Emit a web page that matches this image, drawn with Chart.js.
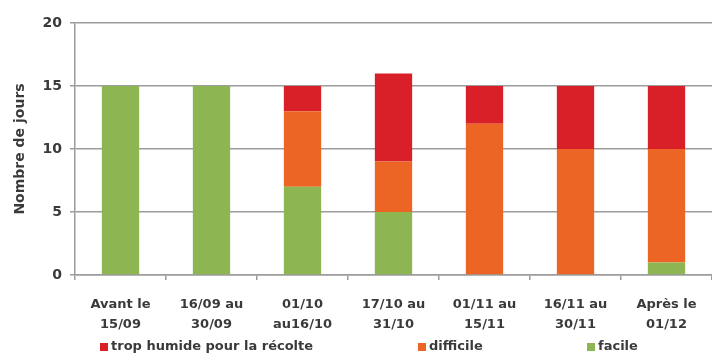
<!DOCTYPE html>
<html>
<head>
<meta charset="utf-8">
<script src="https://cdn.jsdelivr.net/npm/chart.js@4/dist/chart.umd.min.js"></script>
<style>
  html, body { margin: 0; padding: 0; background: #fff; }
  #wrap { width: 712px; height: 356px; }
</style>
</head>
<body>
<div id="wrap"><canvas id="chart" width="712" height="356"></canvas></div>
<script>
const periodLabels = [
    ['Avant le', '15/09'],
    ['16/09 au', '30/09'],
    ['01/10', 'au16/10'],
    ['17/10 au', '31/10'],
    ['01/11 au', '15/11'],
    ['16/11 au', '30/11'],
    ['Après le', '01/12']
];
const facile = [15, 15, 7, 5, 0, 0, 1];
const difficile = [0, 0, 6, 4, 12, 10, 9];
const tropHumide = [0, 0, 2, 7, 3, 5, 5];
const yTicks = [0, 5, 10, 15, 20];

const textColor = '#3a3a3a';
const gridColor = '#9c9c9c';
const fontFamily = '"DejaVu Sans", sans-serif';

// legend drawn by hand so the three entries sit where the original puts them
const legendSlots = [100, 418, 587];
const bottomLegend = {
    id: 'bottomLegend',
    afterDraw(chart) {
        const ctx = chart.ctx;
        const order = chart.data.datasets.slice().reverse();
        ctx.save();
        ctx.font = 'bold 13px ' + fontFamily;
        ctx.textBaseline = 'middle';
        ctx.textAlign = 'left';
        order.forEach((ds, i) => {
            const x = legendSlots[i];
            const y = 347;
            ctx.fillStyle = ds.backgroundColor;
            ctx.fillRect(x, y - 4, 8, 8);
            ctx.fillStyle = textColor;
            ctx.fillText(ds.label, x + 11, y);
        });
        ctx.restore();
    }
};

new Chart(document.getElementById('chart'), {
    type: 'bar',
    data: {
        labels: periodLabels,
        datasets: [
            { label: 'facile', data: facile, backgroundColor: '#8db551' },
            { label: 'difficile', data: difficile, backgroundColor: '#ec6524' },
            { label: 'trop humide pour la récolte', data: tropHumide, backgroundColor: '#d92028' }
        ]
    },
    options: {
        responsive: false,
        animation: false,
        layout: { padding: { top: 23, right: 0, bottom: 21, left: 0 } },
        datasets: {
            bar: { categoryPercentage: 1, barPercentage: 0.41, borderWidth: 0 }
        },
        plugins: {
            legend: { display: false },
            tooltip: { enabled: false }
        },
        scales: {
            x: {
                stacked: true,
                offset: true,
                afterFit(scale) { scale.height = 60; },
                grid: {
                    offset: true,
                    drawOnChartArea: false,
                    drawTicks: true,
                    tickLength: 5,
                    color: gridColor,
                    lineWidth: 1.5
                },
                border: { color: gridColor, width: 1.5 },
                ticks: {
                    color: textColor,
                    padding: 15,
                    maxRotation: 0,
                    font: { family: fontFamily, size: 13, weight: 'bold', lineHeight: 1.5 }
                }
            },
            y: {
                stacked: true,
                min: 0,
                max: 20,
                afterFit(scale) { scale.width = 75; },
                afterBuildTicks(scale) { scale.ticks = yTicks.map(v => ({ value: v })); },
                grid: {
                    color: gridColor,
                    lineWidth: 1.5,
                    tickLength: 5
                },
                border: { color: gridColor, width: 1.5 },
                ticks: {
                    color: textColor,
                    padding: 8,
                    font: { family: fontFamily, size: 14, weight: 'bold' }
                },
                title: {
                    display: true,
                    text: 'Nombre de jours',
                    color: textColor,
                    padding: { top: 12, bottom: 0 },
                    font: { family: fontFamily, size: 14, weight: 'bold' }
                }
            }
        }
    },
    plugins: [bottomLegend]
});
</script>
</body>
</html>
